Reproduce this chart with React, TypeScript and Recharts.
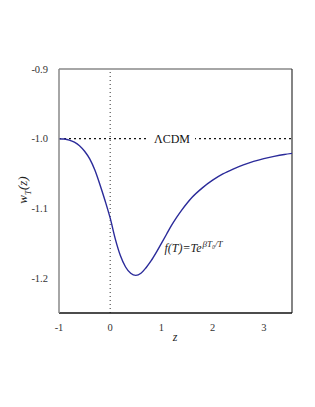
import React from 'react';
import {
  LineChart,
  Line,
  XAxis,
  YAxis,
  ReferenceLine,
  ReferenceDot,
  Label,
} from 'recharts';

// values
const zValues = [
  -1, -0.9, -0.8, -0.7, -0.6, -0.5, -0.4, -0.3, -0.2, -0.1, 0, 0.1, 0.2, 0.3,
  0.4, 0.5, 0.6, 0.7, 0.8, 0.9, 1.0, 1.1, 1.2, 1.3, 1.4, 1.5, 1.6, 1.8, 2.0,
  2.2, 2.4, 2.6, 2.8, 3.0, 3.2, 3.4, 3.55,
];
const wValues = [
  -1.0, -1.0005, -1.002, -1.005, -1.01, -1.018, -1.029, -1.045, -1.066, -1.089,
  -1.114, -1.144, -1.168, -1.184, -1.193, -1.196, -1.193, -1.185, -1.175, -1.163,
  -1.15, -1.137, -1.124, -1.1125, -1.102, -1.0925, -1.084, -1.0705, -1.0595,
  -1.0505, -1.0435, -1.0375, -1.0325, -1.0285, -1.0253, -1.0226, -1.021,
];
const xTicks = [-1, 0, 1, 2, 3];
const yTicks = [-1.2, -1.1, -1.0, -0.9];

const data = zValues.map((z, i) => ({ z, w: wValues[i] }));

const FONT = '"Liberation Serif", "DejaVu Serif", serif';

function XTick(props: any) {
  const { x, y, payload } = props;
  return (
    <text x={x} y={y + 10} textAnchor="middle" fontFamily={FONT} fontSize={10.5} fill="#333">
      {payload.value}
    </text>
  );
}

function YTick(props: any) {
  const { x, y, payload } = props;
  return (
    <text x={x - 1} y={y + 3.5} textAnchor="end" fontFamily={FONT} fontSize={10.5} fill="#333">
      {Number(payload.value).toFixed(1)}
    </text>
  );
}

function LcdmLabel(props: any) {
  const { viewBox } = props;
  const cx = 172;
  const y = viewBox.y;
  return (
    <g>
      <rect x={cx - 23} y={y - 8} width={46} height={16} fill="#fff" />
      <text
        x={cx}
        y={y + 4}
        textAnchor="middle"
        fontFamily={FONT}
        fontSize={12}
        fill="#111"
      >
        ΛCDM
      </text>
    </g>
  );
}

function ModelLabel(props: any) {
  const { viewBox } = props;
  const x = viewBox.x;
  const y = viewBox.y;
  return (
    <text x={x} y={y} fontFamily={FONT} fontSize={12} fontStyle="italic" fill="#222">
      f(T)=Te
      <tspan dx={1} dy={-5} fontSize={9}>βT₀/T</tspan>
    </text>
  );
}

export default function App() {
  return (
    <div style={{ position: 'absolute', left: 0, top: 0, background: '#fff', fontFamily: FONT }}>
      <LineChart
        width={315}
        height={407}
        data={data}
        margin={{ top: 69, right: 23, bottom: 64, left: 0 }}
      >
        <XAxis
          dataKey="z"
          type="number"
          domain={[-1, 3.55]}
          ticks={xTicks}
          allowDataOverflow
          height={30}
          axisLine={{ stroke: '#111', strokeWidth: 1.5 }}
          tickLine={false}
          tickMargin={2}
          tick={<XTick />}
        >
          <Label
            content={() => (
              <text x={175} y={341} textAnchor="middle" fontFamily={FONT} fontSize={12} fontStyle="italic" fill="#222">
                z
              </text>
            )}
          />
        </XAxis>
        <YAxis
          type="number"
          domain={[-1.25, -0.9]}
          ticks={yTicks}
          allowDataOverflow
          width={59}
          axisLine={{ stroke: '#888', strokeWidth: 1.5 }}
          tickLine={false}
          tickMargin={4}
          tick={<YTick />}
        >
          <Label
            content={() => (
              <text
                x={0}
                y={0}
                transform="translate(27,190) rotate(-90)"
                textAnchor="middle"
                fontFamily={FONT}
                fontSize={13}
                fontStyle="italic"
                fill="#222"
              >
                w
                <tspan dy={4} fontSize={9}>T</tspan>
                <tspan dy={-4}>(z)</tspan>
              </text>
            )}
          />
        </YAxis>
        <ReferenceLine y={-0.9} stroke="#888" strokeWidth={1.5} />
        <ReferenceLine x={3.55} stroke="#333" strokeWidth={1.2} />
        <ReferenceLine x={0} stroke="#555" strokeDasharray="1 3" strokeWidth={1.2} />
        <ReferenceLine
          y={-1.0}
          stroke="#111"
          strokeDasharray="2 3"
          strokeWidth={1.3}
          label={<LcdmLabel />}
        />
        <Line
          type="monotone"
          dataKey="w"
          stroke="#2b2b9a"
          strokeWidth={1.4}
          dot={false}
          isAnimationActive={false}
        />
        <ReferenceDot x={1.06} y={-1.162} r={0} fill="none" stroke="none" label={<ModelLabel />} />
      </LineChart>
    </div>
  );
}
